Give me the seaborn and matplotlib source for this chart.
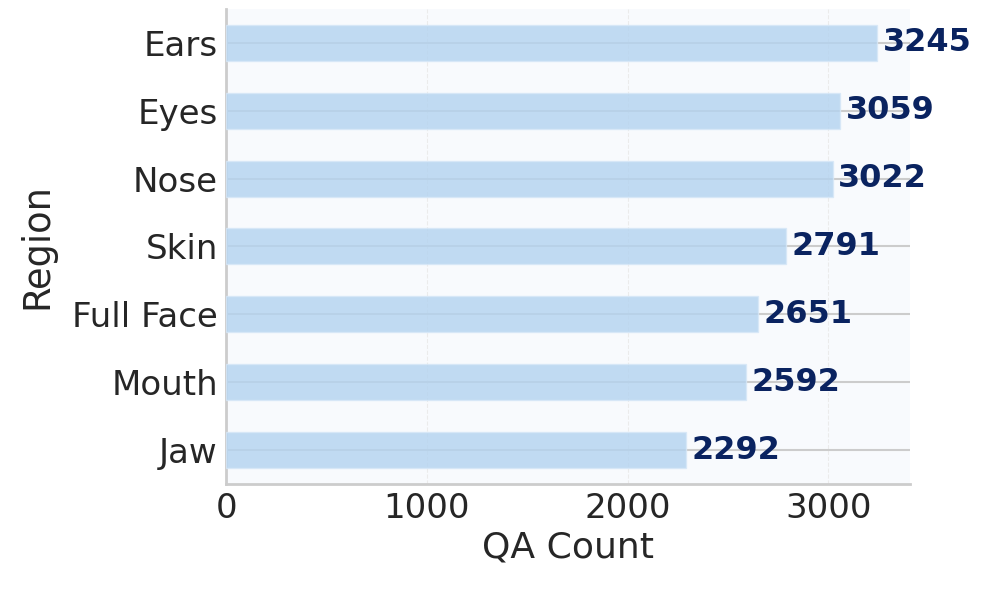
import matplotlib
matplotlib.use("Agg")
import matplotlib.pyplot as plt
import seaborn as sns
import pandas as pd

regions = ["Ears", "Eyes", "Nose", "Skin", "Full Face", "Mouth", "Jaw"]
counts = [3245, 3059, 3022, 2791, 2651, 2592, 2292]

df = pd.DataFrame({"Region": regions, "QA Count": counts})

sns.set_theme(style="whitegrid")
plt.rcParams['font.family'] = ['DejaVu Sans']

fig = plt.figure(figsize=(9.96, 5.95), dpi=100)
ax = fig.add_axes([0.227, 0.1866, 0.9137 - 0.227, 0.985 - 0.1866])
ax.set_facecolor("#f8fafd")

sns.barplot(data=df, x="QA Count", y="Region", ax=ax, color="#b3d3f0",
            alpha=0.8, width=0.53, edgecolor="#d6e7f7", linewidth=1.0,
            saturation=1, zorder=3)

ax.set_xlim(0, max(counts) * 1.05)
ax.set_ylim(6.5, -0.5)

ax.grid(axis="y", color="#cccccc", linestyle="-", linewidth=1.5, zorder=0)
ax.grid(axis="x", color="#ebebeb", linestyle="--", linewidth=0.8, zorder=0)
ax.set_axisbelow(True)

for i, v in enumerate(counts):
    ax.annotate(f"{v}", xy=(v, i), xytext=(4, 0), textcoords="offset points",
                ha="left", va="center", fontsize=23, fontweight="bold",
                color="#0a2360", zorder=5)

for s in ["top", "right"]:
    ax.spines[s].set_visible(False)
for s in ["left", "bottom"]:
    ax.spines[s].set_color("#cccccc")
    ax.spines[s].set_linewidth(2)

ax.tick_params(axis="both", labelsize=24.5, colors="#262626", length=0, pad=6)
ax.set_xticks([0, 1000, 2000, 3000])
ax.set_xlabel("QA Count", fontsize=26, color="#262626", labelpad=4)
ax.set_ylabel("Region", fontsize=26.5, color="#262626", labelpad=12)

fig.savefig("out.png", dpi=100)
